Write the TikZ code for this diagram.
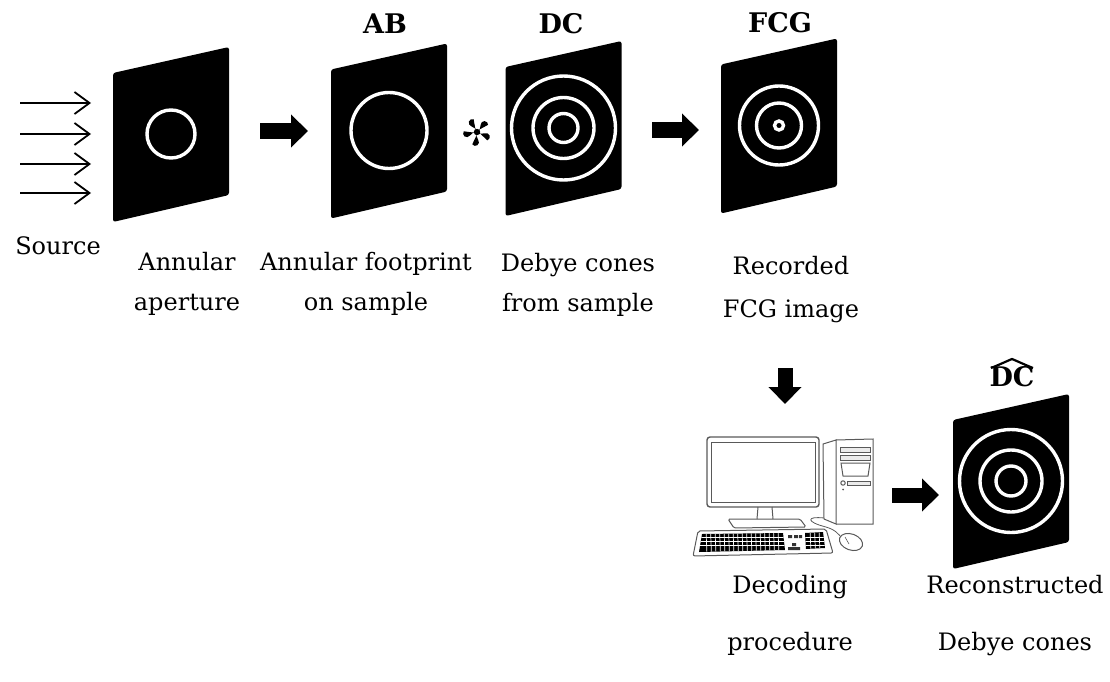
\documentclass[tikz,border=0pt]{standalone}
\usepackage{fontspec}
\setmainfont{DejaVu Serif}
\usetikzlibrary{arrows.meta,calc}

\tikzset{
  sheet/.style={fill=black, rounded corners=2.5pt},
  ring/.style={draw=white, line width=3.4pt},
  fat/.style={line width=15pt, -{Triangle[length=17pt,width=32pt]}},
  ray/.style={line width=1.8pt, -{Straight Barb[length=15pt,width=22pt]}},
  caption/.style={font=\fontsize{24}{40}\selectfont, align=center, anchor=base, inner sep=0pt},
  widecaption/.style={caption, font=\fontsize{24}{57}\selectfont},
  tag/.style={font=\fontsize{27}{30}\selectfont\bfseries, anchor=base, inner sep=0pt},
  pcline/.style={draw=black!65, line width=1pt},
  keygap/.style={draw=white, line width=0.7pt},
}

% black detector sheet seen in perspective, centred on a named coordinate
\newcommand{\sheet}[3]{%
  \coordinate (#1) at (#2,#3);
  \fill[sheet] ($(#1)+(-58,-61)$) -- ($(#1)+(58,-87)$) -- ($(#1)+(58,61)$) -- ($(#1)+(-58,88)$) -- cycle;
}

\begin{document}
\begin{tikzpicture}[x=1pt, y=-1pt]
\useasboundingbox (0,0) rectangle (1110,682);

% incoming beam
\foreach \i/\yy in {1/103, 2/134, 3/164, 4/193} {
  \coordinate (s\i) at (20,\yy);
  \coordinate (t\i) at (91,\yy);
  \draw[ray] (s\i) -- (t\i);
}
\node[caption] (src) at (58,254) {Source};

% annular aperture
\sheet{ap}{171}{134}
\draw[ring] (ap) circle[radius=24pt];
\node[caption] (aplbl) at (187,310) {Annular\\aperture};

\coordinate (a1s) at (260,131);
\coordinate (a1e) at (308,131);
\draw[fat] (a1s) -- (a1e);

% annular beam on the sample
\sheet{ab}{389}{130.5}
\draw[ring] (ab) circle[radius=38pt];
\node[tag] (abtag) at (385,34) {AB};
\node[caption] (ablbl) at (366,310) {Annular footprint\\on sample};

% convolution sign: five teardrop petals
\coordinate (conv) at (477,132);
\foreach \a in {90,18,162,-54,234}
  \fill[rotate around={\a:(conv)}] ($(conv)+(0,2.1)$) -- ($(conv)+(7.2,3.7)$)
    arc[start angle=90, end angle=-90, radius=3.7pt] -- ($(conv)+(0,-2.1)$) -- cycle;
\fill (conv) circle[radius=3.2pt];

% Debye cones
\sheet{dc}{563.5}{128}
\foreach \r in {52,30.5,14.5} \draw[ring] (dc) circle[radius=\r pt];
\node[tag] (dctag) at (561,34) {DC};
\node[caption] (dclbl) at (578,311) {Debye cones\\from sample};

\coordinate (a2s) at (652,130);
\coordinate (a2e) at (699,130);
\draw[fat] (a2s) -- (a2e);

% recorded image
\sheet{fcg}{779}{125.5}
\foreach \r in {39.5,22.5,4.5} \draw[ring] (fcg) circle[radius=\r pt];
\node[tag] (fcgtag) at (780,33) {FCG};
\node[caption, font=\fontsize{24}{43}\selectfont] (fcglbl) at (791,317) {Recorded\\FCG image};

\coordinate (a3s) at (785,368);
\coordinate (a3e) at (785,404);
\draw[fat] (a3s) -- (a3e);

% computer
\coordinate (pc) at (790,497);
\begin{scope}
  % monitor
  \draw[pcline, rounded corners=3pt, line width=1.4pt] (707,437) rectangle (819,507);
  \draw[pcline, line width=0.8pt] (711,442) rectangle (815,502);
  \draw[pcline] (758,507) -- (757,519) (772,507) -- (773,519);
  \draw[pcline, rounded corners=1.5pt] (728,519) -- (800,519) -- (806,527) -- (734,528) -- cycle;
  % tower
  \draw[pcline] (823,444) -- (836,440) -- (836,524) -- (824,519) -- cycle;
  \draw[pcline] (836,440) -- (873,439) -- (873,524) -- (836,524);
  \draw[pcline, fill=black!8] (840,447) rectangle (870,452);
  \draw[pcline, fill=black!8] (840,455) rectangle (870,460);
  \draw[pcline] (841,463) -- (870,463) -- (868,476) -- (843,476) -- cycle;
  \draw[pcline] (843,483) circle[radius=2.2pt];
  \fill[black!65] (843,489.5) circle[radius=1pt];
  \draw[pcline, fill=black!8] (847,481) rectangle (870,485);
  % cables
  \draw[pcline, line width=0.8pt] (824,518) .. controls (806,516) and (806,522) .. (826,527) .. controls (836,530) and (838,534) .. (842,538);
  % keyboard
  \draw[pcline, rounded corners=2pt, fill=white] (698,531) -- (826,529) -- (833,553) -- (693,556) -- cycle;
  \begin{scope}
    \clip (702,534) -- (783,533) -- (785,550) -- (699,552) -- cycle;
    \fill[black] (695,530) rectangle (790,555);
    \foreach \yy in {537.5,541.5,545.5} \draw[keygap] (695,\yy) -- (790,\yy);
    \foreach \xx in {706,710.5,...,782} \draw[keygap] (\xx,530) -- (\xx+1,555);
  \end{scope}
  \begin{scope}
    \clip (805,533) -- (823,532) -- (825,548) -- (806,549) -- cycle;
    \fill[black] (800,530) rectangle (830,552);
    \foreach \yy in {537,541,545} \draw[keygap] (800,\yy) -- (830,\yy);
    \foreach \xx in {810,814.5,819} \draw[keygap] (\xx,530) -- (\xx+1,552);
  \end{scope}
  \fill[black!80] (788,535) rectangle (792,538) (794,535) rectangle (798,538) (799,535) rectangle (802,538);
  \fill[black!80] (792,543) rectangle (796,546) (788,547) rectangle (792,550) (792,547) rectangle (796,550) (796,547) rectangle (800,550);
  % mouse
  \draw[pcline, fill=white, rotate around={-20:(851,542)}] (851,542) ellipse (12pt and 8pt);
  \draw[pcline, line width=0.6pt] (845,537) -- (849,544);
\end{scope}
\node[widecaption] (pclbl) at (790,650) {Decoding\\procedure};

\coordinate (a4s) at (892,495);
\coordinate (a4e) at (939,495);
\draw[fat] (a4s) -- (a4e);

% reconstructed Debye cones
\sheet{rc}{1011}{481}
\foreach \r in {51.5,31,15} \draw[ring] (rc) circle[radius=\r pt];
\node[tag] (rctag) at (1012,386) {DC};
\begin{scope}[shift={(rctag.base)}]
  \draw[line width=2.2pt] (-21,-18) .. controls (-11,-22) and (-5,-25) .. (0,-27) .. controls (5,-25) and (11,-22) .. (21,-18);
\end{scope}
\node[widecaption] (rclbl) at (1015,650) {Reconstructed\\Debye cones};

\end{tikzpicture}
\end{document}
